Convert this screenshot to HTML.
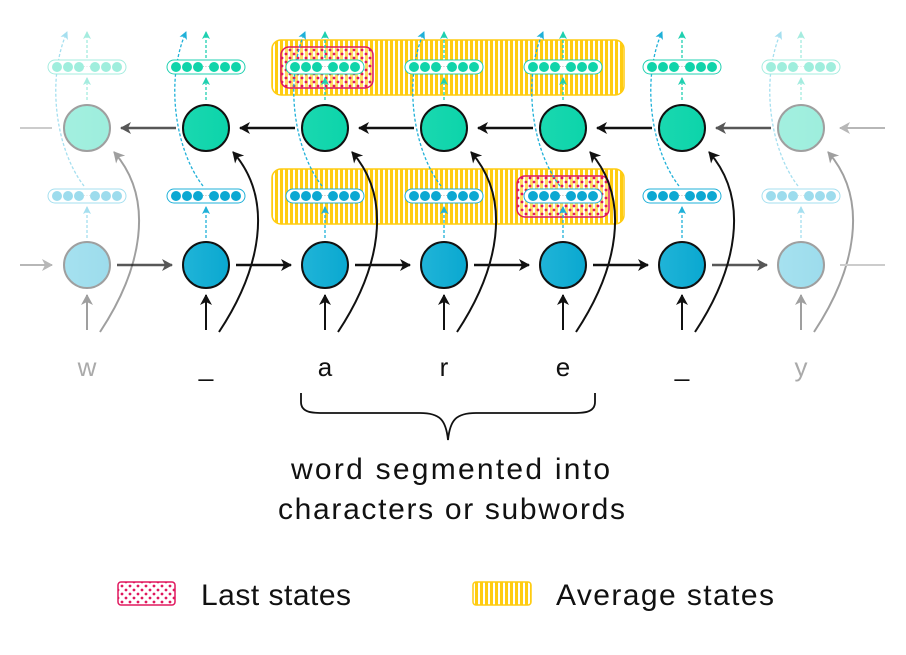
<!DOCTYPE html>
<html><head><meta charset="utf-8"><style>body{margin:0;background:#fff}svg{display:block}text{font-family:"Liberation Sans",sans-serif}</style></head><body>
<svg width="906" height="655" viewBox="0 0 906 655" xmlns="http://www.w3.org/2000/svg">
<defs>
<pattern id="stripes" width="5" height="10" patternUnits="userSpaceOnUse"><rect width="5" height="10" fill="#fff"/><rect width="3" height="10" fill="#ffcc11"/></pattern>
<pattern id="dots" width="8" height="8" patternUnits="userSpaceOnUse"><rect width="8" height="8" fill="#fff" fill-opacity="0.35"/><circle cx="2" cy="2" r="1.4" fill="#e0185e"/><circle cx="6" cy="6" r="1.4" fill="#e0185e"/></pattern>
<linearGradient id="gt" x1="0" x2="1"><stop offset="0" stop-color="#1ad8b0"/><stop offset="1" stop-color="#0cd4aa"/></linearGradient>
<linearGradient id="gb" x1="0" x2="1"><stop offset="0" stop-color="#20b4d8"/><stop offset="1" stop-color="#0aa8d0"/></linearGradient>
<marker id="ak" markerWidth="12" markerHeight="12" refX="10" refY="6" orient="auto" markerUnits="userSpaceOnUse"><path d="M0,0 L11,6 L0,12 L3,6Z" fill="#111"/></marker>
<marker id="ab" markerWidth="8" markerHeight="8" refX="7" refY="4" orient="auto" markerUnits="userSpaceOnUse"><path d="M0,0 L8,4 L0,8 L2,4Z" fill="#1fb0d8"/></marker>
<marker id="at" markerWidth="8" markerHeight="8" refX="7" refY="4" orient="auto" markerUnits="userSpaceOnUse"><path d="M0,0 L8,4 L0,8 L2,4Z" fill="#1fd0b0"/></marker>
<g id="vt"><rect x="-39" y="-7" width="78" height="14" rx="7" fill="#fff" stroke="#1fd0b0" stroke-width="1"/><g fill="#0fd4aa"><circle cx="-30" r="5"/><circle cx="-19" r="5"/><circle cx="-8" r="5"/><circle cx="8" r="5"/><circle cx="19" r="5"/><circle cx="30" r="5"/></g><text x="0" y="2" font-size="8" text-anchor="middle" fill="#999">···</text></g>
<g id="vb"><rect x="-39" y="-7" width="78" height="14" rx="7" fill="#fff" stroke="#1fb0d8" stroke-width="1"/><g fill="#0ca8d2"><circle cx="-30" r="5"/><circle cx="-19" r="5"/><circle cx="-8" r="5"/><circle cx="8" r="5"/><circle cx="19" r="5"/><circle cx="30" r="5"/></g><text x="0" y="2" font-size="8" text-anchor="middle" fill="#999">···</text></g>
<g id="col">
<path d="M-3,186 C-31,150 -41,80 -20,32" fill="none" stroke="#1fb0d8" stroke-width="1.3" stroke-dasharray="3,2" marker-end="url(#ab)"/>
<line x1="0" y1="100" x2="0" y2="78" stroke="#1fd0b0" stroke-width="1.3" stroke-dasharray="3,2" marker-end="url(#at)"/>
<line x1="0" y1="58" x2="0" y2="32" stroke="#1fd0b0" stroke-width="1.3" stroke-dasharray="3,2" marker-end="url(#at)"/>
<line x1="0" y1="238" x2="0" y2="207" stroke="#1fb0d8" stroke-width="1.3" stroke-dasharray="3,2" marker-end="url(#ab)"/>
<line x1="0" y1="330" x2="0" y2="295" stroke="#111" stroke-width="2" marker-end="url(#ak)"/>
<path d="M13,332 C54,270 69,200 27,152" fill="none" stroke="#111" stroke-width="2" marker-end="url(#ak)"/>
</g>
<g id="nodes">
<use href="#vt" x="0" y="67"/><use href="#vb" x="0" y="196"/>
<circle cx="0" cy="128" r="23" fill="url(#gt)" stroke="#111" stroke-width="2"/>
<circle cx="0" cy="265" r="23" fill="url(#gb)" stroke="#111" stroke-width="2"/>
</g>
</defs>
<rect x="272" y="40" width="352" height="55" rx="9" fill="url(#stripes)" stroke="#ffcc11" stroke-width="1.5"/>
<rect x="272" y="169" width="352" height="55" rx="9" fill="url(#stripes)" stroke="#ffcc11" stroke-width="1.5"/>
<rect x="281" y="47" width="92" height="41" rx="8" fill="url(#dots)" stroke="#e0185e" stroke-width="1.5"/>
<rect x="517" y="176" width="92" height="41" rx="8" fill="url(#dots)" stroke="#e0185e" stroke-width="1.5"/>
<g opacity="0.4"><use href="#col" x="87"/><use href="#nodes" x="87"/><use href="#col" x="801"/><use href="#nodes" x="801"/></g>
<use href="#col" x="206"/><use href="#col" x="325"/><use href="#col" x="444"/><use href="#col" x="563"/><use href="#col" x="682"/>
<use href="#nodes" x="206"/><use href="#nodes" x="325"/><use href="#nodes" x="444"/><use href="#nodes" x="563"/><use href="#nodes" x="682"/>
<g stroke="#111" stroke-width="2.5" marker-end="url(#ak)">
<line x1="176" y1="128" x2="121" y2="128" opacity="0.7"/>
<line x1="295" y1="128" x2="240" y2="128"/><line x1="414" y1="128" x2="359" y2="128"/><line x1="533" y1="128" x2="478" y2="128"/><line x1="652" y1="128" x2="597" y2="128"/>
<line x1="771" y1="128" x2="716" y2="128" opacity="0.7"/>
<line x1="117" y1="265" x2="172" y2="265" opacity="0.7"/>
<line x1="236" y1="265" x2="291" y2="265"/><line x1="355" y1="265" x2="410" y2="265"/><line x1="474" y1="265" x2="529" y2="265"/><line x1="593" y1="265" x2="648" y2="265"/>
<line x1="712" y1="265" x2="767" y2="265" opacity="0.7"/>
</g>
<g stroke="#ccc" stroke-width="2">
<line x1="20" y1="128" x2="52" y2="128"/><line x1="885" y1="128" x2="840" y2="128" marker-end="url(#ak)" opacity="0.3" stroke="#111"/>
<line x1="20" y1="265" x2="52" y2="265" marker-end="url(#ak)" opacity="0.3" stroke="#111"/><line x1="840" y1="265" x2="885" y2="265"/>
</g>
<g font-size="26" text-anchor="middle" fill="#111">
<text x="87" y="376" fill="#aaa">w</text><text x="206" y="376">_</text><text x="325" y="376">a</text><text x="444" y="376">r</text><text x="563" y="376">e</text><text x="682" y="376">_</text><text x="801" y="376" fill="#aaa">y</text>
</g>
<path d="M301,393 L301,402 C301,414 315,413 330,413 L420,413 C440,413 446,420 448,440 C450,420 456,413 476,413 L566,413 C581,413 595,414 595,402 L595,393" fill="none" stroke="#111" stroke-width="1.8"/>
<g font-size="30" fill="#111">
<text x="291" y="479" textLength="319" lengthAdjust="spacing">word segmented into</text>
<text x="278" y="519" textLength="347" lengthAdjust="spacing">characters or subwords</text>
</g>
<rect x="118" y="582" width="57" height="23" rx="3" fill="url(#dots)" stroke="#e0185e" stroke-width="1.5"/>
<rect x="473" y="582" width="58" height="23" rx="3" fill="url(#stripes)" stroke="#ffcc11" stroke-width="1.5"/>
<g font-size="30" fill="#111"><text x="201" y="605" textLength="150" lengthAdjust="spacing">Last states</text><text x="556" y="605" textLength="218" lengthAdjust="spacing">Average states</text></g>
</svg>
</body></html>
